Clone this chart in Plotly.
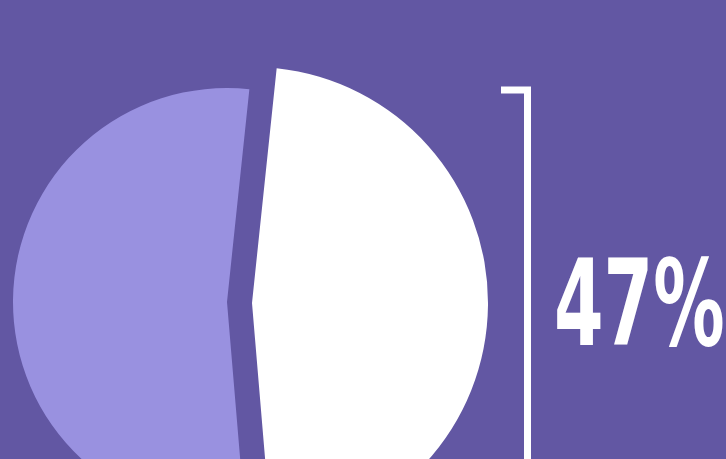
import plotly.graph_objects as go

labels = ["Yes", "No"]
values = [47, 53]
headline = "47%"

BG = "#6257A3"
WHITE = "#FFFFFF"
LIGHT = "#9991E0"
CLEAR = "rgba(0,0,0,0)"

W, H = 726, 560

def dom(cx, cy, r):
    return dict(x=[(cx - r) / W, (cx + r) / W],
                y=[(H - cy - r) / H, (H - cy + r) / H])

fig = go.Figure()
# light (53%) slice, smaller radius
fig.add_trace(go.Pie(labels=labels, values=values, sort=False, direction="clockwise",
                     rotation=6, textinfo="none", hoverinfo="label+percent",
                     marker=dict(colors=[CLEAR, LIGHT], line=dict(width=0)),
                     domain=dom(227, 302, 214), showlegend=False))
# white (47%) slice, larger and offset
fig.add_trace(go.Pie(labels=labels, values=values, sort=False, direction="clockwise",
                     rotation=6, textinfo="none", hoverinfo="label+percent",
                     marker=dict(colors=[WHITE, CLEAR], line=dict(width=0)),
                     domain=dom(252, 303, 236), showlegend=False))

# bracket
fig.add_shape(type="path", xref="paper", yref="paper",
              path=f"M {501/W} {(H-90)/H} L {527.5/W} {(H-90)/H} L {527.5/W} 0",
              line=dict(color=WHITE, width=7))

fig.add_annotation(text=f"<b>{headline}</b>", xref="paper", yref="paper",
                   x=552 / W, y=(H - 303) / H, xanchor="left", yanchor="middle",
                   showarrow=False,
                   font=dict(family="DejaVu Sans Condensed, DejaVu Sans", size=120,
                             color=WHITE))

fig.update_layout(width=W, height=H, margin=dict(l=0, r=0, t=0, b=0),
                  paper_bgcolor=BG, plot_bgcolor=BG)

post = """
document.body.style.margin='0';
document.body.style.overflow='hidden';
document.documentElement.style.overflow='hidden';
var gd=document.getElementById('{plot_id}');
gd.querySelectorAll('.annotation-text').forEach(function(t){
  t.style.transformBox='fill-box';
  t.style.transformOrigin='0% 50%';
  t.style.transform='scaleX(0.66)';
});
"""

fig.write_html("out.html", config={"displayModeBar": False}, post_script=post)
